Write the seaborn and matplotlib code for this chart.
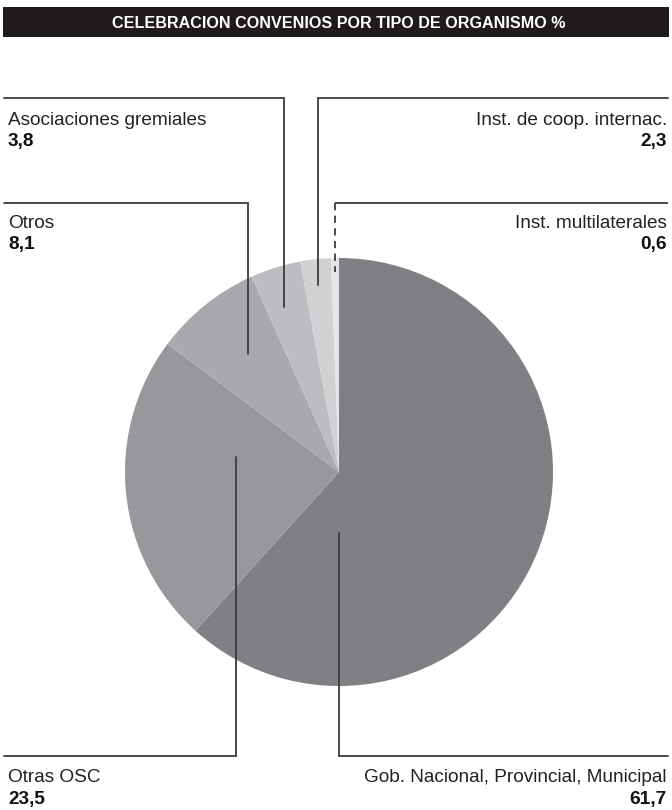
import matplotlib
matplotlib.use("Agg")
import matplotlib.pyplot as plt
import seaborn as sns

# data
labels = ["Gob. Nacional, Provincial, Municipal", "Otras OSC", "Otros",
          "Asociaciones gremiales", "Inst. de coop. internac.", "Inst. multilaterales"]
values = [61.7, 23.5, 8.1, 3.8, 2.3, 0.6]
value_labels = ["61,7", "23,5", "8,1", "3,8", "2,3", "0,6"]
colors = ["#808084", "#98989c", "#a9a9ad", "#bcbdc0", "#d1d1d4", "#e6e6e8"]
title = "CELEBRACION CONVENIOS POR TIPO DE ORGANISMO %"

sns.set_theme(style="white")
plt.rcParams["font.family"] = ["Liberation Sans", "DejaVu Sans"]

W, H = 672, 810
fig = plt.figure(figsize=(W / 100, H / 100), dpi=100)
fig.patch.set_facecolor("white")

# pie axes: center (339, 472), radius 214 px
cx, cy, r = 339, 472, 214
ax = fig.add_axes([(cx - r) / W, (H - cy - r) / H, 2 * r / W, 2 * r / H])
ax.pie(values, colors=colors, startangle=90, counterclock=False,
       wedgeprops=dict(linewidth=0))
ax.set_xlim(-1, 1)
ax.set_ylim(-1, 1)
ax.set_aspect("equal")
ax.axis("off")

# overlay in pixel coordinates
ov = fig.add_axes([0, 0, 1, 1], zorder=5)
ov.set_xlim(0, W)
ov.set_ylim(H, 0)
ov.axis("off")
ov.patch.set_alpha(0)

# title bar
ov.add_patch(plt.Rectangle((3, 7), 666, 30, color="#1f1b1c", lw=0))
ov.text(339, 23, title, color="white", ha="center", va="center",
        fontsize=11.6, fontweight="bold")

lc = "#3a3a3a"
lw = 1.3
# leader lines: (label index) -> polyline points
leaders = {
    3: [(4, 98), (284, 98), (284, 307)],
    4: [(668, 98), (318, 98), (318, 285)],
    2: [(4, 203), (248, 203), (248, 354)],
    5: [(668, 203), (335, 203), (335, 272)],
    1: [(4, 756), (236, 756), (236, 457)],
    0: [(668, 756), (339, 756), (339, 533)],
}
for i, pts in leaders.items():
    xs, ys = zip(*pts)
    if i == 5:
        ov.plot(xs[:2], ys[:2], color=lc, lw=lw, solid_capstyle="butt")
        ov.plot(xs[1:], ys[1:], color=lc, lw=lw, ls=(0, (4, 3)))
    else:
        ov.plot(xs, ys, color=lc, lw=lw, solid_joinstyle="miter")

# text positions: x, baseline of name, baseline of value, alignment
text_pos = {
    3: (8, 125, 146, "left"),
    2: (8, 228, 249, "left"),
    4: (667, 125, 146, "right"),
    5: (667, 228, 249, "right"),
    1: (8, 782, 804, "left"),
    0: (667, 782, 804, "right"),
}
fs = 13.7
for i, (x, yn, yv, ha) in text_pos.items():
    ov.text(x, yn, labels[i], ha=ha, va="baseline", fontsize=fs, color="#222222")
    ov.text(x, yv, value_labels[i], ha=ha, va="baseline", fontsize=fs,
            fontweight="bold", color="#111111")

fig.savefig("out.png", dpi=100)
